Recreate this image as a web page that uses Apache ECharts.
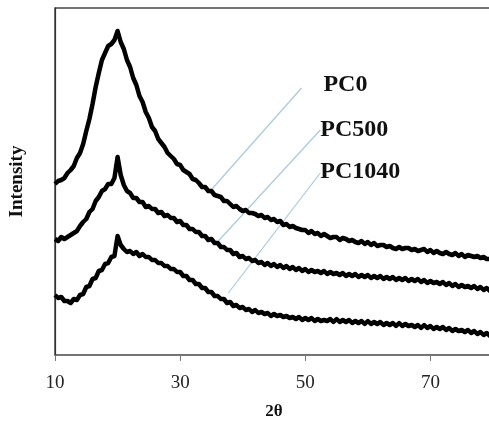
<!DOCTYPE html>
<html>
<head>
<meta charset="utf-8">
<script src="https://cdn.jsdelivr.net/npm/echarts@6/dist/echarts.min.js"></script>
<style>
  html, body { margin: 0; padding: 0; background: #fff; }
  #chart { width: 489px; height: 427px; }
</style>
</head>
<body>
<div id="chart"></div>
<script>
// XRD patterns, sampled every 0.5° of 2θ from 10° to 80°
const thetaStart = 10;
const thetaStep = 0.5;
const xTicks = [10, 30, 50, 70];

// Intensity (a.u., stacked offsets) for each sample
const pc0 = [
  171,174,175,177,182,185,189,197,202,211,   // 10–14.5
  224,236,251,268,282,295,302,309,311,315,   // 15–19.5
  324,313,306,295,288,277,270,259,253,243,   // 20–24.5
  237,228,224,216,212,208,202,199,196,191,   // 25–29.5
  190,185,183,181,176,175,172,168,168,164,   // 30–34.5
  164,160,159,158,154,154,151,148,149,146,   // 35–39.5
  144,145,142,142,141,139,140,137,138,135,   // 40–44.5
  136,133,134,130,131,128,129,127,126,125,   // 45–49.5
  125,122,124,121,122,119,121,119,117,118,   // 50–54.5
  118,115,117,116,114,115,113,112,114,111,   // 55–59.5
  113,110,112,109,110,110,108,109,107,106,   // 60–64.5
  108,106,107,107,105,106,104,105,106,103,   // 65–69.5
  105,102,104,102,101,103,101,100,102,99,    // 70–74.5
  101,98,100,99,98,99,97,98,96,96,           // 75–79.5
  97                                         // 80
];
const pc500 = [
  116,114,118,116,118,120,122,124,129,133,
  136,143,146,154,158,164,166,171,171,177,
  198,180,170,164,162,157,157,153,153,148,
  149,146,146,142,143,139,140,137,137,133,
  134,130,130,126,126,123,123,119,119,115,
  116,112,112,108,108,105,105,101,102,98,
  99,96,97,94,95,92,93,90,92,89,
  91,88,90,87,89,86,88,85,87,84,
  86,83,85,83,84,82,84,81,83,81,
  82,80,82,79,81,79,81,78,80,78,
  80,77,79,77,79,76,78,76,78,75,
  77,75,77,74,76,74,76,73,75,72,
  74,72,73,71,73,70,72,69,71,68,
  70,68,69,67,69,66,68,65,67,64,
  66
];
const pc1040 = [
  60,57,58,54,54,52,56,55,60,61,
  68,69,76,77,84,85,91,92,98,99,
  119,110,106,103,104,101,103,99,101,98,
  98,95,95,92,92,89,89,86,86,83,
  83,79,79,75,75,71,71,67,67,63,
  63,59,59,56,56,52,53,49,50,47,
  48,45,46,43,45,42,43,41,42,39,
  41,39,40,38,39,37,38,36,38,35,
  37,35,37,34,36,34,35,34,36,33,
  36,33,35,33,35,32,34,32,34,31,
  34,31,33,31,33,30,32,30,32,29,
  32,29,31,29,30,28,30,27,30,27,
  29,26,28,26,28,25,27,24,26,24,
  25,23,25,22,24,21,23,20,22,19,
  21
];
const seriesNames = ['PC0', 'PC500', 'PC1040'];
const seriesValues = [pc0, pc500, pc1040];

// Callout placement in data units: label anchor, leader start, leader end
const callouts = [
  { label: [52.9, 270], from: [49.4, 267], to: [34.8, 164] },
  { label: [52.4, 225], from: [52.4, 225], to: [36.1, 114] },
  { label: [52.4, 183], from: [52.4, 182], to: [37.7, 62] }
];

const serif = "'Liberation Serif', 'Times New Roman', serif";

const series = seriesNames.map((name, k) => ({
  name: name,
  type: 'line',
  showSymbol: false,
  silent: true,
  data: seriesValues[k].map((v, i) => [thetaStart + i * thetaStep, v]),
  lineStyle: { color: '#000', width: 4.5, join: 'round' },
  z: 3,
  markLine: {
    silent: true,
    symbol: 'none',
    label: { show: false },
    lineStyle: { color: '#a9c9dc', width: 1.2, type: 'solid' },
    data: [[{ coord: callouts[k].from }, { coord: callouts[k].to }]],
    z: 1
  },
  markPoint: {
    silent: true,
    symbol: 'circle',
    symbolSize: 0,
    data: [{ coord: callouts[k].label }],
    label: {
      show: true,
      position: 'right',
      distance: 0,
      formatter: name,
      fontFamily: serif,
      fontWeight: 'bold',
      fontSize: 24,
      color: '#111'
    }
  }
}));

const chart = echarts.init(document.getElementById('chart'));
chart.setOption({
  animation: false,
  backgroundColor: '#fff',
  grid: {
    left: 55, width: 438, top: 8, bottom: 72,
    outerBoundsMode: 'none',
    show: true, borderColor: '#444', borderWidth: 1.5, backgroundColor: 'transparent'
  },
  xAxis: {
    type: 'value',
    min: xTicks[0],
    max: 80,
    interval: xTicks[1] - xTicks[0],
    name: '2θ',
    nameLocation: 'middle',
    nameGap: 48,
    nameTextStyle: { fontFamily: serif, fontWeight: 'bold', fontSize: 17, color: '#111' },
    axisLine: { show: true, lineStyle: { color: '#777', width: 1.2 } },
    axisTick: { show: true, inside: false, length: 6, lineStyle: { color: '#777' } },
    axisLabel: {
      fontFamily: serif, fontSize: 19, color: '#222', margin: 19,
      showMaxLabel: false
    },
    splitLine: { show: false }
  },
  yAxis: {
    type: 'value',
    min: 0,
    max: 347,
    name: 'Intensity',
    nameLocation: 'middle',
    nameGap: 28,
    nameRotate: 90,
    nameTextStyle: { fontFamily: serif, fontWeight: 'bold', fontSize: 19, color: '#111' },
    axisLine: { show: true, lineStyle: { color: '#333', width: 1.2 } },
    axisTick: { show: false },
    axisLabel: { show: false },
    splitLine: { show: false }
  },
  series: series
});
</script>
</body>
</html>
